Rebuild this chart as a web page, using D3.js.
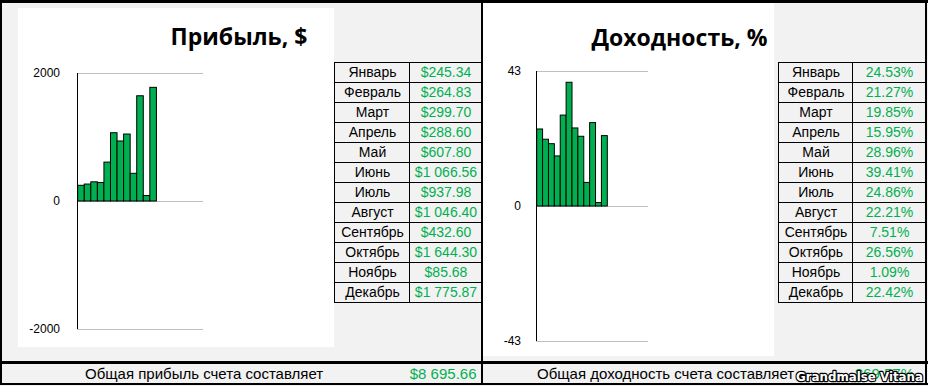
<!DOCTYPE html>
<html><head><meta charset="utf-8">
<script src="https://cdn.jsdelivr.net/npm/d3@7"></script>
<style>body{margin:0;background:#f2f2f2}svg{display:block}</style>
</head><body><svg id="c" width="928" height="386"></svg>
<script>
const months = ["Январь","Февраль","Март","Апрель","Май","Июнь","Июль","Август","Сентябрь","Октябрь","Ноябрь","Декабрь"];
const profit = [245.34, 264.83, 299.70, 288.60, 607.80, 1066.56, 937.98, 1046.40, 432.60, 1644.30, 85.68, 1775.87];
const yieldPct = [24.53, 21.27, 19.85, 15.95, 28.96, 39.41, 24.86, 22.21, 7.51, 26.56, 1.09, 22.42];
const profitTicks = [-2000, 0, 2000];
const yieldTicks = [-43, 0, 43];
const profitTitle = "Прибыль, $";
const yieldTitle = "Доходность, %";
const profitTotalText = "Общая прибыль счета составляет";
const yieldTotalText = "Общая доходность счета составляет";
const yieldTotalLabel = "869.57%";
const watermark = "Grandmalse Vitana";

const loc = d3.formatLocale({decimal:".", thousands:" ", grouping:[3], currency:["$",""]});
const fmtMoney = loc.format("$,.2f");
const fmtPct = v => v.toFixed(2) + "%";

const svg = d3.select("#c");
const GREEN = "#00b050", TXTGREEN = "#00b050";
const SANS = "'Liberation Sans', Arial, sans-serif";

// background
svg.append("rect").attr("width",928).attr("height",386).attr("fill","#f2f2f2");
// chart areas
svg.append("rect").attr("x",18).attr("y",8).attr("width",316).attr("height",339).attr("fill","#fff");
svg.append("rect").attr("x",483).attr("y",3).attr("width",291).attr("height",353).attr("fill","#fff");

function chart(cfg){
  const g = svg.append("g");
  const y = d3.scaleLinear().domain(cfg.domain).range(cfg.yRange);
  const x = d3.scaleBand().domain(months).range(cfg.xRange).padding(0);
  g.selectAll(".grid").data(cfg.ticks).join("line")
    .attr("x1",cfg.axisX).attr("x2",cfg.gridEnd)
    .attr("y1",d=>Math.round(y(d))+0.5).attr("y2",d=>Math.round(y(d))+0.5)
    .attr("stroke","#bfbfbf").attr("stroke-width",1);
  g.selectAll(".bar").data(cfg.values).join("rect")
    .attr("x",(d,i)=>x(months[i]))
    .attr("width",x.bandwidth())
    .attr("y",d=>y(Math.max(0,d)))
    .attr("height",d=>Math.abs(y(d)-y(0)))
    .attr("fill",GREEN).attr("stroke","#000").attr("stroke-width",1);
  const ax = g.append("g").attr("transform",`translate(${cfg.axisX},0)`)
    .call(d3.axisLeft(y).tickValues(cfg.ticks).tickSize(0).tickPadding(cfg.pad).tickFormat(d=>String(d)));
  ax.select(".domain").attr("stroke","#000").attr("d",`M0.5,${y(cfg.domain[1])}V${y(cfg.domain[0])}`);
  ax.selectAll("text").attr("font-family",SANS).attr("font-size",12).attr("fill","#000");
  svg.append("text").attr("x",cfg.titleX).attr("y",cfg.titleY).attr("text-anchor","middle")
    .attr("font-family","'Open Sans', sans-serif").attr("font-weight",700).attr("font-size",23)
    .attr("fill","#000").text(cfg.title);
}

chart({domain:[-2000,2000], yRange:[329,73], xRange:[77.7,156.4], ticks:profitTicks, values:profit,
  axisX:77, gridEnd:203, pad:17, title:profitTitle, titleX:239, titleY:45});
chart({domain:[-43,43], yRange:[341,71], xRange:[536.7,607.3], ticks:yieldTicks, values:yieldPct,
  axisX:536, gridEnd:648, pad:15, title:yieldTitle, titleX:679.5, titleY:46});

function table(x0, xMid, x1, labels){
  const ry = d3.scaleBand().domain(months).range([62,302]);
  const g = svg.append("g");
  months.forEach((m,i)=>{
    const yy = ry(m);
    g.append("rect").attr("x",x0+0.5).attr("y",yy+0.5).attr("width",xMid-x0).attr("height",ry.bandwidth())
      .attr("fill","#f2f2f2").attr("stroke","#000");
    g.append("rect").attr("x",xMid+0.5).attr("y",yy+0.5).attr("width",x1-xMid).attr("height",ry.bandwidth())
      .attr("fill","#f2f2f2").attr("stroke","#000");
    g.append("text").attr("x",(x0+xMid)/2+1).attr("y",yy+15).attr("text-anchor","middle")
      .attr("font-family",SANS).attr("font-size",14).attr("fill","#000").text(m);
    g.append("text").attr("x",(xMid+x1)/2+1).attr("y",yy+15).attr("text-anchor","middle")
      .attr("font-family",SANS).attr("font-size",14).attr("fill",TXTGREEN).text(labels[i]);
  });
}
table(334, 409, 481, profit.map(fmtMoney));
table(778, 852, 925, yieldPct.map(fmtPct));

svg.append("rect").attr("x",0).attr("y",361).attr("width",928).attr("height",3).attr("fill","#000");
svg.append("rect").attr("x",0).attr("y",383).attr("width",928).attr("height",2).attr("fill","#000");
svg.append("text").attr("x",85).attr("y",379).attr("font-family",SANS).attr("font-size",15).attr("fill","#000").text(profitTotalText);
svg.append("text").attr("x",476.5).attr("y",379).attr("text-anchor","end").attr("font-family",SANS).attr("font-size",15).attr("fill",TXTGREEN).text(fmtMoney(d3.sum(profit)));
svg.append("text").attr("x",537).attr("y",379).attr("font-family",SANS).attr("font-size",15).attr("fill","#000").text(yieldTotalText);
svg.append("text").attr("x",914).attr("y",379).attr("text-anchor","end").attr("font-family",SANS).attr("font-size",15).attr("fill",TXTGREEN).text(yieldTotalLabel);

svg.append("rect").attr("x",0).attr("y",0).attr("width",928).attr("height",3).attr("fill","#000");
svg.append("rect").attr("x",0).attr("y",0).attr("width",2).attr("height",385).attr("fill","#000");
svg.append("rect").attr("x",481).attr("y",0).attr("width",2).attr("height",385).attr("fill","#000");
svg.append("rect").attr("x",925).attr("y",0).attr("width",2).attr("height",385).attr("fill","#000");

svg.append("text").attr("x",796).attr("y",381).attr("font-family","'DejaVu Sans', sans-serif")
  .attr("font-weight",700).attr("font-size",13).attr("textLength",127).attr("lengthAdjust","spacingAndGlyphs")
  .attr("fill","#fff").attr("stroke","#000").attr("stroke-width",2.5).attr("paint-order","stroke")
  .attr("stroke-linejoin","round").text(watermark);
</script>
</body></html>
